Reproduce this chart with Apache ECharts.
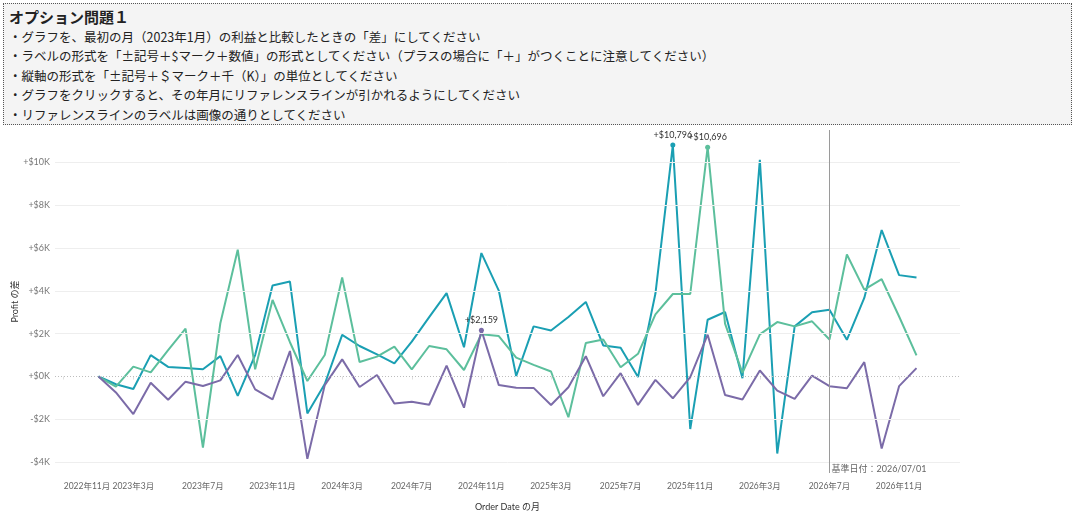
<!DOCTYPE html>
<html>
<head>
<meta charset="utf-8">
<script src="https://cdn.jsdelivr.net/npm/echarts@6/dist/echarts.min.js"></script>
<style>
  html, body { margin: 0; padding: 0; background: #fff; }
  #wrap { position: relative; width: 1080px; height: 529px; overflow: hidden; }
  #chart { position: absolute; left: 0; top: 0; width: 1080px; height: 529px; }
  #note {
    position: absolute; left: 3px; top: 3px; width: 1069px; height: 122px;
    border: 1px dotted #555; background: #f4f4f4; box-sizing: border-box;
    font-family: "Noto Sans CJK JP", sans-serif; color: #222;
    padding: 2px 0 0 5px;
  }
  #note .title { font-size: 15px; font-weight: bold; line-height: 21px; }
  #note .line { font-size: 12.5px; line-height: 19.4px; }
</style>
</head>
<body>
<div id="wrap">
  <div id="chart"></div>
  <div id="note">
    <div class="title">オプション問題１</div>
    <div class="line">・グラフを、最初の月（2023年1月）の利益と比較したときの「差」にしてください</div>
    <div class="line">・ラベルの形式を「±記号＋$マーク＋数値」の形式としてください（プラスの場合に「＋」がつくことに注意してください）</div>
    <div class="line">・縦軸の形式を「±記号＋＄マーク＋千（K）」の単位としてください</div>
    <div class="line">・グラフをクリックすると、その年月にリファレンスラインが引かれるようにしてください</div>
    <div class="line">・リファレンスラインのラベルは画像の通りとしてください</div>
  </div>
</div>
<script>
// axis months (two empty months padded on each side, like the original view)
var months = [
  '2022/11', '2022/12',
  '2023/01', '2023/02', '2023/03', '2023/04', '2023/05', '2023/06',
  '2023/07', '2023/08', '2023/09', '2023/10', '2023/11', '2023/12',
  '2024/01', '2024/02', '2024/03', '2024/04', '2024/05', '2024/06',
  '2024/07', '2024/08', '2024/09', '2024/10', '2024/11', '2024/12',
  '2025/01', '2025/02', '2025/03', '2025/04', '2025/05', '2025/06',
  '2025/07', '2025/08', '2025/09', '2025/10', '2025/11', '2025/12',
  '2026/01', '2026/02', '2026/03', '2026/04', '2026/05', '2026/06',
  '2026/07', '2026/08', '2026/09', '2026/10', '2026/11', '2026/12',
  '2027/01', '2027/02'
];
var padBefore = 2;

// profit difference vs 2023/01, per month 2023/01 .. 2026/12
var seriesTeal = [
  0, -360, -580, 1000, 450, 400, 340, 950, -900, 1000, 4245, 4430,
  -1720, -350, 1940, 1425, 1035, 615, 1630, 2770, 3890, 1365, 5760, 4010,
  25, 2340, 2150, 2780, 3480, 1450, 1340, -20, 3870, 10796, -2450, 2650,
  3010, -80, 10110, -3590, 2340, 2995, 3120, 1715, 3665, 6830, 4730, 4620
];
var seriesGreen = [
  0, -475, 460, 195, 1230, 2236, -3310, 2485, 5914, 335, 3575, 1600,
  -210, 1005, 4620, 680, 930, 1395, 335, 1425, 1270, 305, 1970, 1890,
  880, 545, 235, -1900, 1560, 1730, 435, 1060, 2900, 3850, 3850, 10696,
  2465, 170, 1965, 2540, 2340, 2575, 1730, 5695, 4055, 4540, 2800, 985
];
var seriesPurple = [
  0, -740, -1750, -290, -1080, -240, -445, -180, 1005, -600, -1070, 1190,
  -3840, -400, 800, -490, 70, -1255, -1175, -1315, 505, -1455, 2159, -400,
  -520, -530, -1325, -500, 950, -920, 155, -1325, -155, -1015, -30, 1950,
  -860, -1075, 280, -655, -1045, 45, -450, -545, 670, -3355, -450, 390
];
var yTicks = [-4000, -2000, 2000, 4000, 6000, 8000, 10000];
var refMonth = '2026/07';

var colors = ['#1a9fb3', '#5cbf9c', '#7b6ba8'];
var font = 'Lato, "Noto Sans CJK JP", sans-serif';

function signMoney(v) {
  return (v >= 0 ? '+' : '-') + '$' + Math.abs(v).toLocaleString('en-US');
}

function monthLabel(m) {
  var p = m.split('/');
  return p[0] + '年' + parseInt(p[1], 10) + '月';
}

// put values onto the padded axis and mark each series' maximum
function buildData(values) {
  var maxIdx = 0;
  values.forEach(function(v, i) { if (v > values[maxIdx]) maxIdx = i; });
  var out = [];
  for (var i = 0; i < months.length; i++) {
    var k = i - padBefore;
    if (k < 0 || k >= values.length) { out.push(null); continue; }
    if (k === maxIdx) {
      out.push({
        value: values[k], symbol: 'circle', symbolSize: 5,
        label: { show: true }
      });
    } else {
      out.push(values[k]);
    }
  }
  return out;
}

function refMarks(month) {
  return {
    markLine: {
      silent: true, symbol: 'none', animation: false,
      label: { show: false },
      data: [
        { xAxis: month, lineStyle: { color: '#9a9a9a', width: 1, type: 'solid' } },
        { yAxis: 0, lineStyle: { color: '#bdbdbd', width: 1, type: [1, 2] } }
      ]
    },
    markPoint: {
      silent: true, animation: false,
      data: [{
        coord: [month, -4300], symbol: 'circle', symbolSize: 0,
        label: {
          show: true, position: 'right', distance: 2,
          fontSize: 9, color: '#666', fontFamily: font,
          formatter: '基準日付：' + month + '/01'
        }
      }]
    }
  };
}

function lineSeries(name, values, color) {
  return {
    name: name,
    type: 'line',
    z: 3,
    data: buildData(values),
    symbol: 'none',
    showSymbol: true,
    showAllSymbol: true,
    connectNulls: false,
    lineStyle: { color: color, width: 2 },
    itemStyle: { color: color },
    label: {
      show: false, position: 'top', distance: 3,
      fontSize: 9, color: '#333', fontFamily: font,
      formatter: function(p) { return signMoney(p.value); }
    },
    emphasis: { disabled: true },
    animation: false
  };
}

var chart = echarts.init(document.getElementById('chart'));

var teal = lineSeries('Technology', seriesTeal, colors[0]);
var ref = refMarks(refMonth);
teal.markLine = ref.markLine;
teal.markPoint = ref.markPoint;

var option = {
  backgroundColor: '#fff',
  textStyle: { fontFamily: font },
  grid: { left: 55, right: 120, top: 130, bottom: 56, containLabel: false, outerBoundsMode: 'none' },
  tooltip: { show: false },
  xAxis: {
    type: 'category',
    data: months,
    boundaryGap: true,
    name: 'Order Date の月',
    nameLocation: 'middle',
    nameGap: 30,
    nameTextStyle: { fontSize: 9, color: '#333', fontFamily: font },
    axisLine: { show: false },
    axisTick: { show: true, interval: 3, alignWithLabel: true, length: 3, lineStyle: { color: '#e0e0e0' } },
    axisLabel: {
      interval: 3, fontSize: 8.5, color: '#666', margin: 9,
      showMinLabel: true,
      alignMinLabel: 'left', hideOverlap: false,
      formatter: function(v) { return monthLabel(v); }
    },
    splitLine: { show: false }
  },
  yAxis: {
    type: 'value',
    min: -4500,
    max: 11500,
    interval: 500,
    name: 'Profit の差',
    nameLocation: 'middle',
    nameGap: 35,
    nameRotate: 90,
    nameMoveOverlap: false,
    nameTextStyle: { fontSize: 9, color: '#333', fontFamily: font },
    axisLine: { show: false },
    axisTick: { show: false },
    splitLine: { show: false },
    axisLabel: {
      fontSize: 9, color: '#777', margin: 5,
      formatter: function(v) {
        if (v % 2000 !== 0) return '';
        return (v >= 0 ? '+' : '-') + '$' + Math.abs(v / 1000) + 'K';
      }
    }
  },
  series: [
    {
      name: 'grid',
      type: 'line',
      z: 1,
      data: [],
      silent: true,
      markLine: {
        silent: true, symbol: 'none', animation: false,
        label: { show: false },
        lineStyle: { color: '#eeeeee', width: 1, type: 'solid' },
        data: yTicks.map(function(v) { return { yAxis: v }; })
      }
    },
    teal,
    lineSeries('Office Supplies', seriesGreen, colors[1]),
    lineSeries('Furniture', seriesPurple, colors[2])
  ]
};

chart.setOption(option);

// click anywhere on the plot: move the reference line to that month
chart.getZr().on('click', function(e) {
  var pt = [e.offsetX, e.offsetY];
  if (!chart.containPixel('grid', pt)) return;
  var idx = chart.convertFromPixel({ xAxisIndex: 0 }, pt)[0];
  if (idx == null || isNaN(idx)) return;
  idx = Math.max(0, Math.min(months.length - 1, Math.round(idx)));
  var marks = refMarks(months[idx]);
  chart.setOption({ series: [{}, { markLine: marks.markLine, markPoint: marks.markPoint }] });
});
</script>
</body>
</html>
